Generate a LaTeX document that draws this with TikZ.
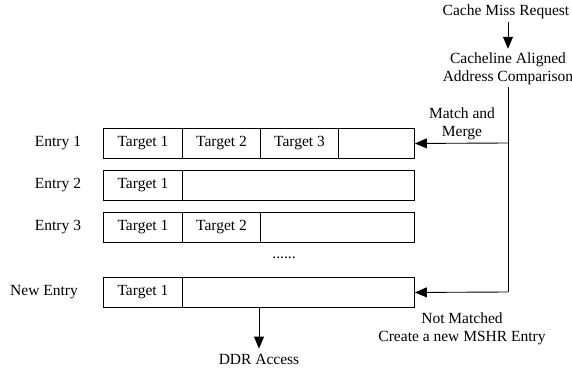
\documentclass[tikz,border=0pt]{standalone}
\usepackage{fontspec}
\setmainfont{Liberation Serif}
\usetikzlibrary{arrows.meta}
\begin{document}
\begin{tikzpicture}[x=1pt,y=-1pt,
  lbl/.style={font=\fontsize{15.5}{18}\selectfont, inner sep=0pt, align=center},
  cell/.style={draw, line width=0.9pt, minimum height=30pt, inner sep=0pt, anchor=north west, font=\fontsize{15.5}{18}\selectfont},
  conn/.style={line width=0.9pt, -{Triangle[length=12pt,width=10pt]}},
  wire/.style={line width=0.9pt}]
\useasboundingbox (0,0) rectangle (572,374);
% rows
\node[cell, minimum width=311pt] (e1) at (103,128) {};
\node[cell, minimum width=79pt] (t11) at (103,128) {Target 1};
\node[cell, minimum width=78pt] (t12) at (182,128) {Target 2};
\node[cell, minimum width=78pt] (t13) at (260,128) {Target 3};
\node[cell, minimum width=311pt] (e2) at (103,170) {};
\node[cell, minimum width=79pt] (t21) at (103,170) {Target 1};
\node[cell, minimum width=311pt] (e3) at (103,212) {};
\node[cell, minimum width=79pt] (t31) at (103,212) {Target 1};
\node[cell, minimum width=78pt] (t32) at (182,212) {Target 2};
\node[cell, minimum width=311pt] (en) at (103,277) {};
\node[cell, minimum width=79pt] (tn1) at (103,277) {Target 1};
% labels
\node[lbl] (l1) at (58,143) {Entry 1};
\node[lbl] (l2) at (58,185) {Entry 2};
\node[lbl] (l3) at (58,227) {Entry 3};
\node[lbl] (ln) at (44,292) {New Entry};
\node[lbl] (dots) at (284,258) {......};
\node[lbl] (req) at (506,12) {Cache Miss Request};
\node[lbl] (cmp) at (508,69) {Cacheline Aligned\\Address Comparison};
\node[lbl] (mm) at (462,124) {Match and\\Merge};
\node[lbl] (nm) at (462,329) {Not Matched\\Create a new MSHR Entry};
\node[lbl] (ddr) at (259,359) {DDR Access};
% connectors
\coordinate (j1) at (508,143);
\coordinate (j2) at (508,292);
\draw[conn] ([yshift=-3pt]req.south -| j1) -- ([yshift=4pt]cmp.north -| j1);
\draw[wire] ([yshift=-2pt]cmp.south -| j1) -- (j2);
\draw[conn] (j1) -- (e1.east);
\draw[conn] (j2) -- (en.east);
\draw[conn] (en.south -| ddr) -- ([yshift=5pt]ddr.north);
\end{tikzpicture}
\end{document}
